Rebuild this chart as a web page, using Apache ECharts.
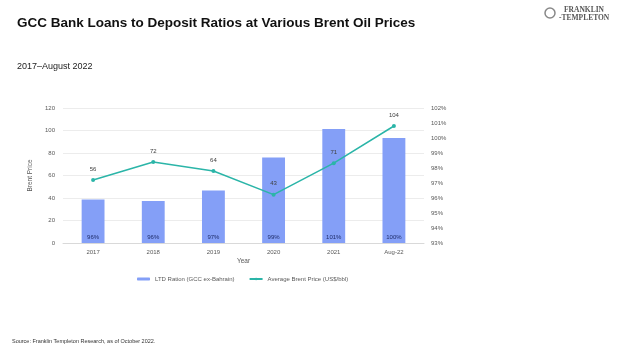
<!DOCTYPE html>
<html>
<head>
<meta charset="utf-8">
<script src="https://cdn.jsdelivr.net/npm/echarts@6/dist/echarts.min.js"></script>
<style>
  html, body { margin: 0; padding: 0; background: #fff; }
  #chart { width: 624px; height: 353px; }
</style>
</head>
<body>
<div id="chart"></div>
<script>
var years = ['2017', '2018', '2019', '2020', '2021', 'Aug-22'];
var ltdRatio = [95.9, 95.8, 96.5, 98.7, 100.6, 100.0];
var brentPrice = [56, 72, 64, 43, 71, 104];

var chart = echarts.init(document.getElementById('chart'));
var sans = 'Liberation Sans, Arial, sans-serif';
var axisText = { color: '#595959', fontSize: 6, fontFamily: sans };

chart.setOption({
  backgroundColor: '#fff',
  animation: false,
  title: [
    {
      text: 'GCC Bank Loans to Deposit Ratios at Various Brent Oil Prices',
      left: 17, top: 16, padding: 0,
      textStyle: { fontFamily: sans, fontSize: 13.5, fontWeight: 'bold', color: '#111' }
    },
    {
      text: '2017\u2013August 2022',
      left: 17, top: 62, padding: 0,
      textStyle: { fontFamily: sans, fontSize: 9, fontWeight: 'normal', color: '#222' }
    },
    {
      text: 'Source: Franklin Templeton Research, as of October 2022.',
      left: 12, top: 338, padding: 0,
      textStyle: { fontFamily: sans, fontSize: 5.5, fontWeight: 'normal', color: '#333' }
    }
  ],
  graphic: [
    { type: 'circle', shape: { cx: 550, cy: 13, r: 5 }, style: { fill: 'none', stroke: '#888', lineWidth: 1.5 } },
    { type: 'text', left: 564, top: 6, style: { text: 'FRANKLIN', font: 'bold 7.5px "Liberation Serif", serif', fill: '#555' } },
    { type: 'text', left: 559, top: 14, style: { text: '-TEMPLETON', font: 'bold 7.5px "Liberation Serif", serif', fill: '#555' } }
  ],
  legend: {
    left: 137, top: 276, padding: 0,
    itemWidth: 13, itemHeight: 3, itemGap: 14,
    textStyle: { color: '#595959', fontSize: 6, fontFamily: sans },
    data: [
      { name: 'LTD Ration (GCC ex-Bahrain)', icon: 'roundRect' },
      { name: 'Average Brent Price (US$/bbl)' }
    ]
  },
  grid: { left: 63, right: 200, top: 108, bottom: 110 },
  xAxis: {
    type: 'category',
    data: years,
    name: 'Year',
    nameLocation: 'middle',
    nameGap: 15,
    nameTextStyle: { color: '#595959', fontSize: 6.5, fontFamily: sans },
    axisLine: { lineStyle: { color: '#d9d9d9' } },
    axisTick: { show: false },
    axisLabel: Object.assign({ margin: 6 }, axisText)
  },
  yAxis: [
    {
      type: 'value',
      min: 0, max: 120, interval: 20,
      name: 'Brent Price',
      nameLocation: 'middle',
      nameGap: 17,
      nameTextStyle: { color: '#595959', fontSize: 6.5, fontFamily: sans },
      axisLine: { show: false },
      axisTick: { show: false },
      axisLabel: Object.assign({ margin: 8 }, axisText),
      splitLine: { lineStyle: { color: '#ececec' } }
    },
    {
      type: 'value',
      min: 93, max: 102, interval: 1,
      axisLine: { show: false },
      axisTick: { show: false },
      splitLine: { show: false },
      axisLabel: Object.assign({ margin: 7, formatter: '{value}%' }, axisText)
    }
  ],
  series: [
    {
      name: 'LTD Ration (GCC ex-Bahrain)',
      type: 'bar',
      yAxisIndex: 1,
      data: ltdRatio,
      barWidth: '38%',
      itemStyle: { color: '#849ff7' },
      label: {
        show: true,
        position: 'insideBottom',
        distance: 3,
        color: '#1f2d6b',
        fontSize: 6,
        fontFamily: sans,
        formatter: function (p) { return Math.round(p.value) + '%'; }
      }
    },
    {
      name: 'Average Brent Price (US$/bbl)',
      type: 'line',
      yAxisIndex: 0,
      data: brentPrice,
      symbol: 'circle',
      symbolSize: 4,
      lineStyle: { color: '#2bb5a8', width: 1.5 },
      itemStyle: { color: '#2bb5a8' },
      label: {
        show: true,
        position: 'top',
        distance: 6,
        color: '#404040',
        fontSize: 6,
        fontFamily: sans
      }
    }
  ]
});
</script>
</body>
</html>
